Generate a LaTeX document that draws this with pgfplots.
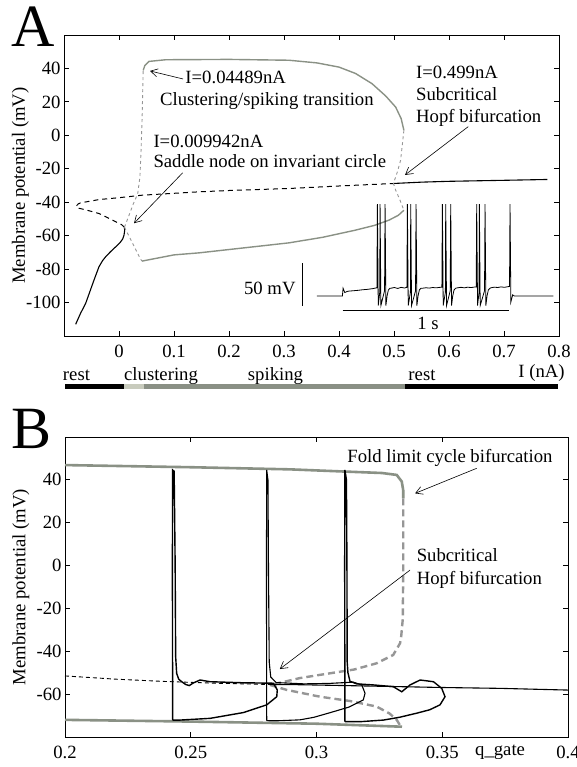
\documentclass[border=0pt]{standalone}
\usepackage{fontspec}
\setmainfont{Liberation Serif}
\usepackage{pgfplots}
\pgfplotsset{compat=1.18}
\usetikzlibrary{arrows.meta}
\definecolor{cycg}{RGB}{138,145,133}
\definecolor{cycd}{RGB}{150,150,150}
\definecolor{clus}{RGB}{200,203,189}
\definecolor{spk}{RGB}{138,144,133}
\tikzset{arr/.style={-{Straight Barb[length=7pt,width=8pt]}, line width=0.6pt}}
\newcommand{\fs}{\fontsize{18.7}{22}\selectfont}
\pgfplotsset{
  myax/.style={scale only axis, clip=false,
    axis line style={line width=0.9pt},
    tick align=inside, major tick length=5pt,
    tick style={line width=0.8pt, black},
    scaled ticks=false,
    /pgf/number format/assume math mode=true,
    tick label style={font=\fs},
    xticklabel style={yshift=-6pt},
    label style={font=\fs},
    every node/.append style={font=\fs}}
}
\begin{document}
\begin{tikzpicture}[font=\fs]
\useasboundingbox (0pt,0pt) rectangle (577pt,767pt);
\node[anchor=base, inner sep=0, font=\fontsize{60}{63}\selectfont] at (33pt,720pt) {A};
\node[anchor=base, inner sep=0, font=\fontsize{60}{63}\selectfont] at (31.5pt,318pt) {B};

% ---------------- Panel A ----------------
\begin{axis}[myax, name=A, at={(64pt,431pt)}, anchor=south west,
  width=495pt, height=301pt,
  xmin=-0.1, xmax=0.8, ymin=-120, ymax=60,
  xtick={0,0.1,0.2,0.3,0.4,0.5,0.6,0.7,0.8},
  ytick={-100,-80,-60,-40,-20,0,20,40},
  ylabel={Membrane potential (mV)},
  ylabel style={at={(axis description cs:-0.088,0.5)}, anchor=center}]
% stable rest
\addplot[black, line width=1.1pt] coordinates {(-0.0788,-113.0) (-0.0700,-106.5) (-0.0606,-100.5) (-0.0530,-93.5) (-0.0455,-86.6) (-0.0364,-78.6) (-0.0300,-75.0) (-0.0242,-72.6) (-0.0160,-69.8) (-0.0091,-67.6) (-0.0030,-65.8) (0.0030,-63.7) (0.0070,-61.8) (0.0091,-59.7) (0.0103,-57.0) (0.0099,-55.0)};
% unstable
\addplot[black, line width=1pt, dash pattern=on 5pt off 4pt] coordinates {(0.0099,-55.0) (0.0050,-53.5) (-0.0100,-51.0) (-0.0360,-46.8) (-0.0600,-44.6) (-0.0730,-43.6) (-0.0780,-42.4) (-0.0740,-41.0) (-0.0700,-40.4) (-0.0360,-38.4) (0.0000,-37.3) (0.0420,-35.8) (0.1450,-33.8) (0.2000,-33.0) (0.3090,-31.8) (0.4000,-30.3) (0.4990,-28.8)};
% stable after Hopf
\addplot[black, line width=1.1pt] coordinates {(0.499,-28.8) (0.55,-28.0) (0.6,-27.5) (0.7,-26.9) (0.779,-26.4)};
% limit cycle max (stable)
\addplot[cycg, line width=1.4pt] coordinates {(0.0440,38.8) (0.0470,41.8) (0.0545,44.2) (0.0850,45.2) (0.2000,45.4) (0.3090,44.9) (0.3600,43.3) (0.4000,40.8) (0.4300,37.0) (0.4600,30.9) (0.4850,23.5) (0.5030,16.9) (0.5130,10.0) (0.5180,3.0)};
% limit cycle min (stable)
\addplot[cycg, line width=1.4pt] coordinates {(0.0420,-75.2) (0.1000,-71.5) (0.1450,-70.3) (0.2000,-68.3) (0.3090,-64.3) (0.3700,-61.0) (0.4300,-56.7) (0.4650,-53.8) (0.4910,-50.7) (0.5080,-47.8) (0.5180,-44.8)};
% unstable cycles
\addplot[cycd, line width=0.9pt, dash pattern=on 3pt off 3pt] coordinates {(0.0099,-55) (0.018,-48) (0.026,-41) (0.034,-35) (0.038,-25) (0.040,-10) (0.042,10) (0.043,25) (0.044,38.8)};
\addplot[cycd, line width=0.9pt, dash pattern=on 3pt off 3pt] coordinates {(0.0099,-55) (0.0250,-64.7) (0.0390,-74.0) (0.0420,-75.2)};
\addplot[cycd, line width=0.9pt, dash pattern=on 3pt off 3pt] coordinates {(0.5180,3.0) (0.5150,-6.0) (0.5120,-14.9) (0.5060,-22.0) (0.4990,-28.8) (0.5030,-32.8) (0.5100,-38.0) (0.5180,-44.8)};
% state bar
\addplot[black, line width=5pt] coordinates {(-0.0973,-150) (0.00994,-150)};
\addplot[clus, line width=5pt] coordinates {(0.00994,-150) (0.04489,-150)};
\addplot[spk, line width=5pt] coordinates {(0.04489,-150) (0.52,-150)};
\addplot[black, line width=5pt] coordinates {(0.52,-150) (0.7975,-150)};
\node[anchor=base] at (axis cs:-0.0773,-146.5) {rest};
\node[anchor=base] at (axis cs:0.0764,-146.5) {clustering};
\node[anchor=base] at (axis cs:0.2845,-146.5) {spiking};
\node[anchor=base] at (axis cs:0.5509,-146.5) {rest};
\node[anchor=base] at (axis cs:0.7682,-145) {I (nA)};
% annotations
\node[anchor=base west, inner sep=0] at (axis cs:0.1205,30.7) {I=0.04489nA};
\node[anchor=base west, inner sep=0] at (axis cs:0.0745,18.1) {Clustering/spiking transition};
\node[anchor=base west, inner sep=0] at (axis cs:0.0624,-7.4) {I=0.009942nA};
\node[anchor=base west, inner sep=0] at (axis cs:0.0624,-19.4) {Saddle node on invariant circle};
\node[anchor=base west, inner sep=0] at (axis cs:0.540,33.7) {I=0.499nA};
\node[anchor=base west, inner sep=0] at (axis cs:0.540,20.7) {Subcritical};
\node[anchor=base west, inner sep=0] at (axis cs:0.540,7.8) {Hopf bifurcation};
\draw[arr] (axis cs:0.1164,33.7) -- (axis cs:0.0564,38.5);
\draw[arr] (axis cs:0.1158,-22.4) -- (axis cs:0.0273,-52.6);
\draw[arr] (axis cs:0.635,5.2) -- (axis cs:0.520,-23.7);
\end{axis}

% ---------------- Inset trace (overlay) ----------------
\begin{axis}[scale only axis, hide axis, clip=false, at={(64pt,431pt)}, anchor=south west,
  width=495pt, height=301pt,
  xmin=-1.673, xmax=1.298, ymin=-116.2, ymax=231.4]
\addplot[black, line width=0.8pt] coordinates {
(-0.156,-70) (-0.002,-70) (0.002,-61) (0.012,-66) (0.03,-64.5) (0.06,-64) (0.09,-63.5) (0.12,-62.8) (0.15,-62.3) (0.18,-61.5) (0.205,-60.5)
(0.208,36) (0.213,-81) (0.222,-66) (0.224,36) (0.229,-81) (0.251,-64) (0.254,36) (0.259,-81) (0.266,-70) (0.274,-63) (0.284,-61)
(0.29,-61) (0.31,-60.2) (0.33,-61.3) (0.35,-60) (0.37,-60.8) (0.385,-60)
(0.388,36) (0.393,-81) (0.406,-66) (0.408,36) (0.413,-81) (0.437,-64) (0.440,36) (0.445,-81) (0.452,-70) (0.460,-63) (0.470,-61)
(0.48,-61) (0.5,-60.5) (0.52,-60.9) (0.54,-60.2) (0.56,-60.6) (0.58,-60.1) (0.595,-59.8)
(0.598,36) (0.603,-81) (0.616,-66) (0.618,36) (0.623,-81) (0.645,-64) (0.648,36) (0.653,-81) (0.660,-70) (0.668,-63) (0.678,-61)
(0.69,-60.5) (0.71,-60) (0.73,-60.6) (0.75,-59.8) (0.77,-60.3) (0.79,-59.7) (0.801,-59.5)
(0.804,36) (0.809,-81) (0.818,-66) (0.820,36) (0.825,-81) (0.851,-64) (0.854,36) (0.859,-81) (0.866,-70) (0.874,-63) (0.884,-61)
(0.89,-60.5) (0.91,-59.8) (0.93,-60.2) (0.95,-59.5) (0.97,-60) (0.99,-59.3) (1.001,-59)
(1.004,36) (1.009,-77) (1.02,-68.7) (1.03,-70) (1.264,-70)};
% scale bars
\addplot[black, line width=0.8pt] coordinates {(-0.24,-81.5) (-0.24,-31.5)};
\addplot[black, line width=0.8pt] coordinates {(0,-87) (1,-87)};
\node[anchor=base east, font=\fs] at (axis cs:-0.262,-68.8) {50 mV};
\node[anchor=base, font=\fs] at (axis cs:0.512,-108.5) {1 s};
\end{axis}

% ---------------- Panel B ----------------
\begin{axis}[myax, name=B, at={(65pt,30pt)}, anchor=south west,
  width=503pt, height=300pt,
  xmin=0.2, xmax=0.4, ymin=-80, ymax=60,
  xtick={0.2,0.25,0.3,0.35,0.4},
  ytick={-60,-40,-20,0,20,40},
  ylabel={Membrane potential (mV)},
  ylabel style={at={(axis description cs:-0.0875,0.5)}, anchor=center}]
% limit cycle stable max and min
\addplot[cycg, line width=2.6pt] coordinates {(0.2,46.9) (0.25,45.9) (0.2895,44.9) (0.3107,43.9) (0.3260,43.2) (0.3319,42.3) (0.3339,39.2) (0.3345,35) (0.3345,31.4)};
\addplot[cycg, line width=2.6pt] coordinates {(0.2,-72) (0.25,-72.8) (0.3,-73.8) (0.334,-75.2)};
% unstable cycle
\addplot[cycd, line width=2.4pt, dash pattern=on 7pt off 4pt] coordinates {(0.3345,31.4) (0.3345,0) (0.3343,-25) (0.3336,-34) (0.3332,-36.3) (0.3305,-41.7) (0.3239,-45.6) (0.3150,-48.5) (0.3014,-51) (0.2934,-52.5) (0.2880,-54) (0.2815,-55.7)};
\addplot[cycd, line width=2.4pt, dash pattern=on 7pt off 4pt] coordinates {(0.2815,-55.7) (0.2881,-58) (0.3014,-61.2) (0.3133,-63.2) (0.3239,-65.8) (0.3290,-69) (0.3319,-72) (0.3339,-75.9)};
% rest branch
\addplot[black, line width=0.9pt, dash pattern=on 4pt off 3pt] coordinates {(0.2,-51.5) (0.22,-53) (0.24,-54.1) (0.26,-54.9) (0.2815,-55.5)};
\addplot[black, line width=1.1pt] coordinates {(0.2815,-55.5) (0.2934,-55.6) (0.32,-56.2) (0.35,-56.9) (0.373,-57.3) (0.4,-58.1)};
% trajectories
\addplot[black, line width=1.4pt] coordinates {(0.2428,-72.1) (0.2427,0) (0.2428,44.6) (0.2434,44) (0.2438,0) (0.2440,-42.5) (0.2444,-50.3) (0.2452,-53) (0.2464,-54.2) (0.2480,-55.5) (0.2494,-56) (0.2510,-54.8) (0.2537,-53.4) (0.2577,-54.2) (0.2709,-54.7) (0.2828,-54.9) (0.2844,-58) (0.2842,-61.2) (0.2802,-65) (0.2709,-68.6) (0.2577,-71.3) (0.2457,-72.1) (0.2428,-72.1)};
\addplot[black, line width=1.1pt] coordinates {(0.2802,-72.3) (0.2801,0) (0.2802,44.6) (0.2807,40) (0.2809,0) (0.2812,-45) (0.2818,-52) (0.2840,-54.6) (0.2950,-55.2) (0.3050,-55) (0.3146,-54.4) (0.3180,-55.7) (0.3193,-59.6) (0.3186,-62.7) (0.3130,-66) (0.3067,-68.2) (0.2990,-70.8) (0.2934,-72) (0.2850,-72.4) (0.2810,-72.4) (0.2802,-72.3)};
\addplot[black, line width=1.4pt] coordinates {(0.3113,-72.8) (0.3112,0) (0.3113,44.6) (0.3119,40) (0.3121,0) (0.3122,-45) (0.3125,-50) (0.3133,-54) (0.3160,-55.2) (0.3226,-55.7) (0.3305,-56.5) (0.3339,-58.9) (0.3372,-55.7) (0.3412,-53.4) (0.3465,-54.2) (0.3498,-57.3) (0.3511,-61.2) (0.3491,-65) (0.3450,-67.3) (0.3398,-68.9) (0.3330,-70.8) (0.3266,-72.1) (0.3180,-72.8) (0.3113,-72.8)};
% annotations
\node[anchor=base west, inner sep=0] at (axis cs:0.3122,47.9) {Fold limit cycle bifurcation};
\node[anchor=base west, inner sep=0] at (axis cs:0.3398,2.1) {Subcritical};
\node[anchor=base west, inner sep=0] at (axis cs:0.3398,-8.7) {Hopf bifurcation};
\node[anchor=base west, inner sep=0] at (axis cs:0.363,-88.5) {q\_gate};
\draw[arr] (axis cs:0.3637,45.4) -- (axis cs:0.3392,33.7);
\draw[arr] (axis cs:0.3372,-2.1) -- (axis cs:0.2854,-48.3);
\end{axis}
\end{tikzpicture}
\end{document}
